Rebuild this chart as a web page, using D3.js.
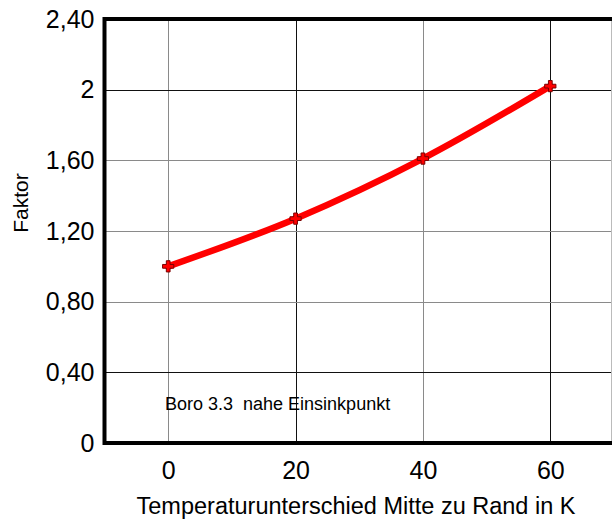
<!DOCTYPE html>
<html>
<head>
<meta charset="utf-8">
<script src="https://cdn.jsdelivr.net/npm/d3@7"></script>
<style>
  body { margin: 0; background: #fff; }
  text { font-family: "Liberation Sans", Arial, sans-serif; white-space: pre; }
</style>
</head>
<body>
<svg id="chart"></svg>
<script>
// data
const temps = [0, 20, 40, 60];
const faktor = [1.0, 1.27, 1.61, 2.02];
const xTicks = [0, 20, 40, 60];
const yTicks = [0, 0.4, 0.8, 1.2, 1.6, 2.0, 2.4];
const yTickLabels = ["0", "0,40", "0,80", "1,20", "1,60", "2", "2,40"];
const xTitle = "Temperaturunterschied Mitte zu Rand in K";
const yTitle = "Faktor";
const note = "Boro 3.3  nahe Einsinkpunkt";

const width = 612, height = 520;
const margin = {top: 19, right: -2, bottom: 77, left: 104.5};

const svg = d3.select("#chart")
  .attr("width", width)
  .attr("height", height);

const x = d3.scaleLinear()
  .domain([-10, 70])
  .range([margin.left, width - margin.right]);
const y = d3.scaleLinear()
  .domain([0, 2.4])
  .range([height - margin.bottom, margin.top]);

// grid (some lines look darker than others in the original)
const vGridColor = d => (d === 20 || d === 60) ? "#111" : "#8a8a8a";
const hGridColor = d => (Math.abs(d - 0.4) < 1e-6 || Math.abs(d - 2) < 1e-6) ? "#111" : "#8a8a8a";

svg.append("g")
  .selectAll("line")
  .data(xTicks)
  .join("line")
  .attr("x1", d => Math.round(x(d)) + 0.5)
  .attr("x2", d => Math.round(x(d)) + 0.5)
  .attr("y1", y(2.4))
  .attr("y2", y(0))
  .attr("stroke", vGridColor)
  .attr("stroke-width", 1);

svg.append("g")
  .selectAll("line")
  .data(yTicks.slice(1, -1))
  .join("line")
  .attr("x1", x(-10))
  .attr("x2", width)
  .attr("y1", d => Math.round(y(d)) + 0.5)
  .attr("y2", d => Math.round(y(d)) + 0.5)
  .attr("stroke", hGridColor)
  .attr("stroke-width", 1);

// frame: thick left, top, bottom; thin grey right edge
svg.append("line")
  .attr("x1", width - 0.5).attr("x2", width - 0.5)
  .attr("y1", y(2.4)).attr("y2", y(0))
  .attr("stroke", "#bbb");
svg.append("path")
  .attr("d", `M${width},${y(2.4)}H${x(-10)}V${y(0)}H${width}`)
  .attr("fill", "none")
  .attr("stroke", "#000")
  .attr("stroke-width", 4);

// axis labels
const xAxis = g => g
  .attr("transform", `translate(0,${y(0)})`)
  .call(d3.axisBottom(x).tickValues(xTicks).tickSize(0).tickPadding(18))
  .call(g => g.select(".domain").remove())
  .call(g => g.selectAll("text")
    .attr("font-size", 25)
    .attr("font-family", "Liberation Sans, Arial, sans-serif")
    .attr("fill", "#000"));

const yAxis = g => g
  .attr("transform", `translate(${x(-10)},0)`)
  .call(d3.axisLeft(y).tickValues(yTicks).tickSize(0).tickPadding(10)
    .tickFormat((d, i) => yTickLabels[i]))
  .call(g => g.select(".domain").remove())
  .call(g => g.selectAll("text")
    .attr("font-size", 25)
    .attr("font-family", "Liberation Sans, Arial, sans-serif")
    .attr("fill", "#000"));

svg.append("g").call(xAxis);
svg.append("g").call(yAxis);

svg.append("text")
  .attr("x", 356)
  .attr("y", 514)
  .attr("text-anchor", "middle")
  .attr("font-size", 23.5)
  .attr("fill", "#000")
  .text(xTitle);

svg.append("text")
  .attr("transform", "translate(28,203) rotate(-90)")
  .attr("text-anchor", "middle")
  .attr("font-size", 21)
  .attr("fill", "#000")
  .text(yTitle);

svg.append("text")
  .attr("x", 165)
  .attr("y", 410)
  .attr("font-size", 18)
  .attr("fill", "#000")
  .text(note);

// series
const points = temps.map((t, i) => ({t, f: faktor[i]}));

const line = d3.line()
  .x(d => x(d.t))
  .y(d => y(d.f))
  .curve(d3.curveMonotoneX);

svg.append("path")
  .datum(points)
  .attr("fill", "none")
  .attr("stroke", "#ff0000")
  .attr("stroke-width", 6.5)
  .attr("stroke-linejoin", "round")
  .attr("stroke-linecap", "round")
  .attr("d", line);

svg.selectAll(".marker")
  .data(points)
  .join("path")
  .attr("class", "marker")
  .attr("transform", d => `translate(${x(d.t)},${y(d.f)})`)
  .attr("d", d3.symbol(d3.symbolCross, 70))
  .attr("fill", "#ff0000")
  .attr("stroke", "#7a0000")
  .attr("stroke-width", 1);
</script>
</body>
</html>
